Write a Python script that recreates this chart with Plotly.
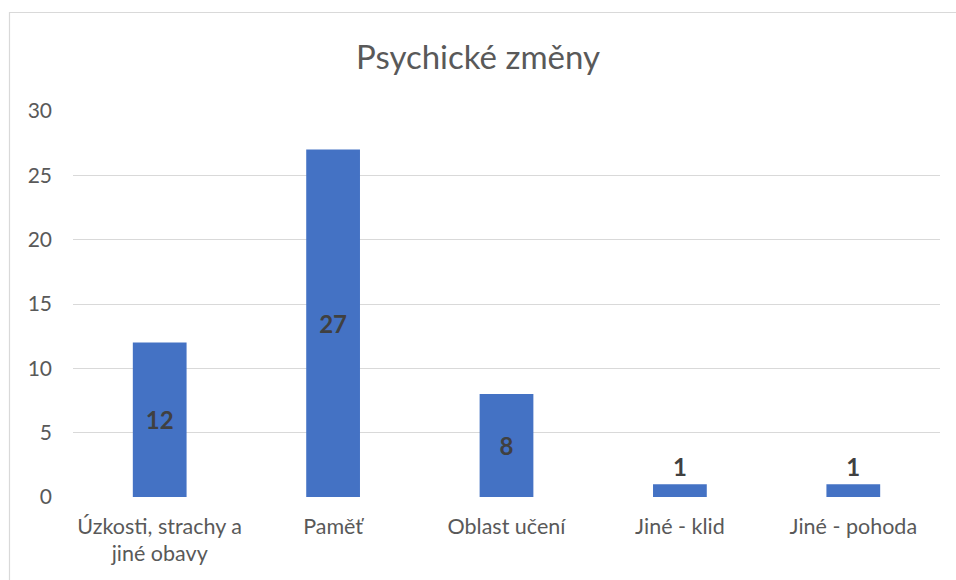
import plotly.graph_objects as go

categories = ["Úzkosti, strachy a<br>jiné obavy", "Paměť", "Oblast učení", "Jiné - klid", "Jiné - pohoda"]
values = [12, 27, 8, 1, 1]
label_positions = ["inside", "inside", "inside", "outside", "outside"]
y_ticks = [0, 5, 10, 15, 20, 25, 30]

FONT = "Lato"
L, R, T, B = 73, 16, 111, 83
W, H = 956, 580
pw, ph = W - L - R, H - T - B

fig = go.Figure(go.Bar(
    x=categories, y=values,
    marker=dict(color="#4472C4", line=dict(width=0)),
    text=[str(v) for v in values],
    textposition=label_positions,
    insidetextanchor="middle",
    textfont=dict(family=FONT, size=24, color="#404040", weight="bold"),
    cliponaxis=False,
))

fig.update_layout(
    width=W, height=H,
    margin=dict(l=L, r=R, t=T, b=B),
    paper_bgcolor="white", plot_bgcolor="white",
    bargap=0.69,
    showlegend=False,
    uniformtext=dict(minsize=24, mode="show"),
    title=dict(text="Psychické změny", x=0.5, xanchor="center", y=1 - 57 / H, yanchor="middle",
               font=dict(family=FONT, size=33, color="#595959")),
    font=dict(family=FONT, color="#595959"),
    xaxis=dict(showgrid=False, showline=False, ticks="", ticklabelstandoff=14,
               tickfont=dict(size=21.5, color="#595959")),
    yaxis=dict(range=[0, 30], tickvals=y_ticks, showgrid=True, gridcolor="#d9d9d9", gridwidth=1.2,
               zeroline=False, showline=False, ticks="", ticklabelstandoff=20,
               tickfont=dict(size=21, color="#595959")),
    shapes=[dict(type="rect", xref="paper", yref="paper",
                 x0=(9.5 - L) / pw, x1=(W + 10 - L) / pw,
                 y0=(H - B - (H + 10)) / ph, y1=(H - B - 12.5) / ph,
                 line=dict(color="#d9d9d9", width=1.2), fillcolor="rgba(0,0,0,0)", layer="below")],
)

fig.write_html("out.html", config={"displayModeBar": False},
               post_script="document.body.style.margin='0';document.body.style.overflow='hidden';")
